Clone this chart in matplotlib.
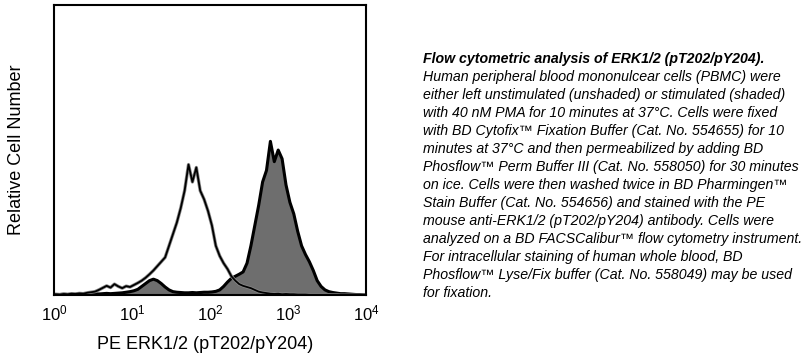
import numpy as np
import matplotlib.pyplot as plt

plt.rcParams['font.family'] = ['Liberation Sans', 'DejaVu Sans']
plt.rcParams['mathtext.fontset'] = 'custom'
plt.rcParams['mathtext.rm'] = 'Liberation Sans'
plt.rcParams['mathtext.it'] = 'Liberation Sans:italic'

# histogram bins: log10 channel, 0.05 decade wide, 0..4
bin_edges_log = np.arange(0, 4.0001, 0.05)

# unstimulated (unshaded), percent of axis height
unstim = [0.3, 0.2, 0.4, 0.3, 0.5, 0.4, 0.6, 0.5, 0.8, 1.0,
          1.2, 1.8, 2.5, 3.2, 2.6, 3.8, 3.0, 2.4, 3.1, 2.8,
          3.5, 4.2, 5.0, 6.0, 7.2, 8.5, 10.0, 11.5, 13.0, 17.0,
          21.0, 25.0, 30.0, 36.0, 45.0, 39.0, 44.0, 36.0, 33.0, 29.0,
          24.0, 17.0, 13.5, 11.0, 9.0, 6.5, 5.0, 3.8, 3.2, 2.8,
          2.4, 1.8, 1.2, 0.9, 0.7, 0.5, 0.4, 0.5, 0.3, 0.4,
          0.3, 0.3, 0.2, 0.2, 0.2, 0.1, 0.1, 0.1, 0.1, 0.1,
          0.1, 0.1, 0.1, 0.0, 0.0, 0.0, 0.0, 0.0, 0.0, 0.0]

# PMA stimulated (shaded)
stim = [0.2, 0.2, 0.3, 0.2, 0.3, 0.3, 0.4, 0.3, 0.4, 0.4,
        0.5, 0.4, 0.5, 0.6, 0.5, 0.6, 0.7, 0.8, 1.0, 1.2,
        1.5, 2.0, 3.0, 4.0, 5.0, 5.5, 5.0, 4.0, 2.8, 1.8,
        1.2, 1.0, 0.9, 0.8, 0.8, 0.9, 0.8, 0.9, 1.0, 1.0,
        1.1, 1.3, 1.8, 3.0, 4.5, 5.8, 6.5, 7.2, 8.0, 11.0,
        17.0, 24.0, 31.0, 39.0, 43.0, 53.0, 46.0, 50.0, 47.0, 38.0,
        32.0, 28.0, 22.0, 17.0, 14.0, 11.5, 8.5, 5.0, 3.0, 1.8,
        1.2, 0.9, 0.7, 0.5, 0.5, 0.4, 0.3, 0.2, 0.2, 0.1]

x_ticks = [1, 10, 100, 1000, 10000]
x_tick_labels = ['$10^0$', '$10^1$', '$10^2$', '$10^3$', '$10^4$']

title = 'Flow cytometric analysis of ERK1/2 (pT202/pY204).'
body = [
    'Human peripheral blood mononulcear cells (PBMC) were',
    'either left unstimulated (unshaded) or stimulated (shaded)',
    'with 40 nM PMA for 10 minutes at 37°C. Cells were fixed',
    'with BD Cytofix™ Fixation Buffer (Cat. No. 554655) for 10',
    'minutes at 37°C and then permeabilized by adding BD',
    'Phosflow™ Perm Buffer III (Cat. No. 558050) for 30 minutes',
    'on ice. Cells were then washed twice in BD Pharmingen™',
    'Stain Buffer (Cat. No. 554656) and stained with the PE',
    'mouse anti-ERK1/2 (pT202/pY204) antibody. Cells were',
    'analyzed on a BD FACSCalibur™ flow cytometry instrument.',
    'For intracellular staining of human whole blood, BD',
    'Phosflow™ Lyse/Fix buffer (Cat. No. 558049) may be used',
    'for fixation.',
]

centers = 10 ** (bin_edges_log[:-1] + 0.025)
xs = np.concatenate([[1], centers, [10000]])
stim_y = np.concatenate([[stim[0]], stim, [stim[-1]]])
unstim_y = np.concatenate([[unstim[0]], unstim, [unstim[-1]]])

fig = plt.figure(figsize=(8.06, 3.56), dpi=100)
ax = fig.add_axes([0.067, 0.171, 0.387, 0.815])

# shaded histogram first, unshaded outline on top
ax.fill_between(xs, 0, stim_y, color='#6e6e6e', linewidth=0)
ax.plot(xs, stim_y, color='black', linewidth=2.2)
ax.plot(xs, unstim_y, color='#888888', linewidth=2.4)
ax.plot(xs, unstim_y, color='black', linewidth=1.3)

ax.set_xscale('log')
ax.set_xlim(1, 10000)
ax.set_ylim(0, 100)
ax.set_yticks([])
ax.set_xticks(x_ticks)
ax.set_xticklabels(x_tick_labels, fontsize=12)
ax.minorticks_off()
ax.tick_params(axis='x', length=0, pad=6)
for s in ax.spines.values():
    s.set_linewidth(1.5)

ax.set_xlabel('PE ERK1/2 (pT202/pY204)', fontsize=13)
ax.xaxis.set_label_coords(0.485, -0.14)
ax.set_ylabel('Relative Cell Number', fontsize=13, labelpad=21)

fig.text(0.525, 0.834, title, fontsize=10.2, style='italic', weight='bold',
         va='center')
for i, line in enumerate(body):
    fig.text(0.525, 0.784 - i * 0.0505, line, fontsize=10.2, style='italic',
             va='center')

fig.savefig('out.png', dpi=100)
